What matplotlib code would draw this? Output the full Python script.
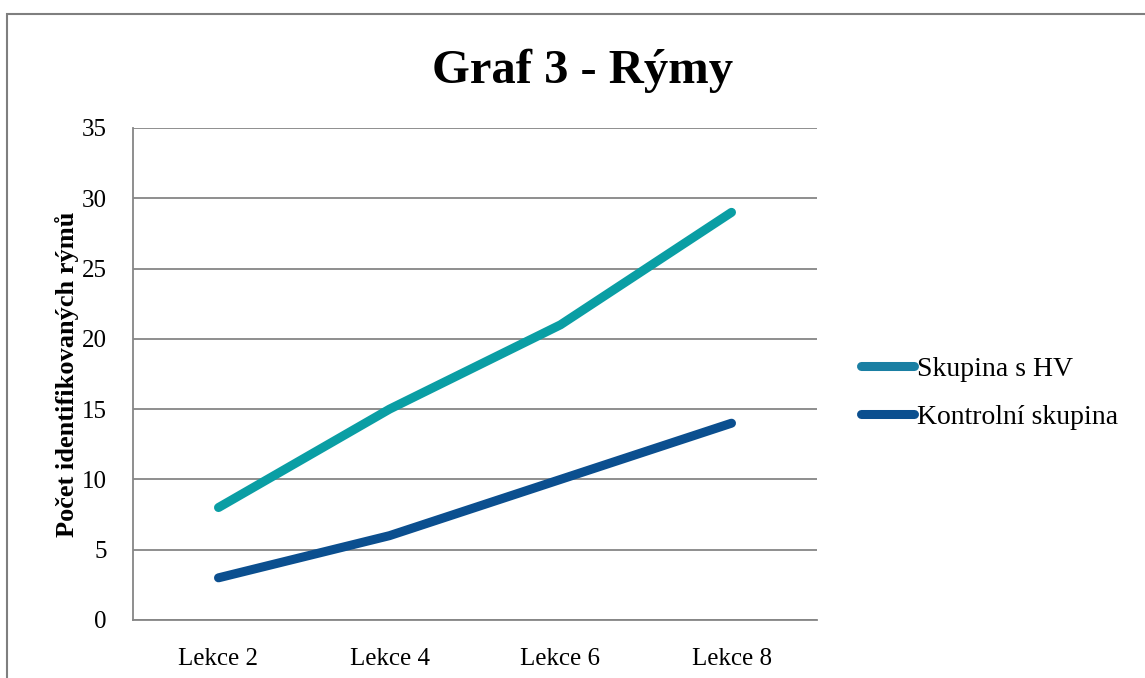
import matplotlib.pyplot as plt
import matplotlib as mpl
from matplotlib.lines import Line2D
from matplotlib.patches import Rectangle

mpl.rcParams['font.family'] = ['Liberation Serif', 'DejaVu Serif']

# Data
lekce = ["Lekce 2", "Lekce 4", "Lekce 6", "Lekce 8"]
skupina_hv = [8, 15, 21, 29]
kontrolni = [3, 6, 10, 14]

c_hv = "#0a9ea4"
c_hv_leg = "#1a7fa3"
c_kon = "#0b4f8f"

W, H = 1145, 678
fig = plt.figure(figsize=(W / 100, H / 100), dpi=100)
ax = fig.add_axes([133 / W, 1 - 620 / H, (817 - 133) / W, (620 - 128) / H])

x = range(len(lekce))
ax.plot(x, skupina_hv, color=c_hv, lw=6.5, solid_capstyle='round', solid_joinstyle='round')
ax.plot(x, kontrolni, color=c_kon, lw=6.5, solid_capstyle='round', solid_joinstyle='round')

ax.set_xlim(-0.5, 3.5)
ax.set_ylim(0, 35)
ax.set_yticks(range(0, 36, 5))
ax.set_xticks(list(x))
ax.set_xticklabels(lekce)
ax.tick_params(axis='both', length=0, labelsize=18, colors='black')
ax.tick_params(axis='y', pad=19)
ax.tick_params(axis='x', pad=20)

ax.grid(axis='y', color='#868686', lw=1.3)
ax.set_axisbelow(True)
for s in ['top', 'right']:
    ax.spines[s].set_visible(False)
for s in ['left', 'bottom']:
    ax.spines[s].set_color('#868686')
    ax.spines[s].set_linewidth(1.3)

ax.set_ylabel("Počet identifikovaných rýmů", fontsize=19, fontweight='bold', labelpad=2)

fig.text(583 / W, 1 - 71 / H, "Graf 3 - Rýmy", fontsize=35, fontweight='bold',
         ha='center', va='center')

handles = [Line2D([], [], color=c_hv_leg, lw=6.5, solid_capstyle='round'),
           Line2D([], [], color=c_kon, lw=6.5, solid_capstyle='round')]
fig.legend(handles, ["Skupina s HV", "Kontrolní skupina"], loc='center left',
           bbox_to_anchor=(850 / W, 1 - 393 / H), frameon=False, fontsize=20,
           handlelength=1.9, handletextpad=0.1, labelspacing=0.8, borderaxespad=0)

fig.patches.append(Rectangle((7 / W, -0.1), 1.2, 1 - 14 / H + 0.1, transform=fig.transFigure,
                             fill=False, edgecolor='#7f7f7f', lw=1.5))

fig.savefig("out.png", dpi=100)
